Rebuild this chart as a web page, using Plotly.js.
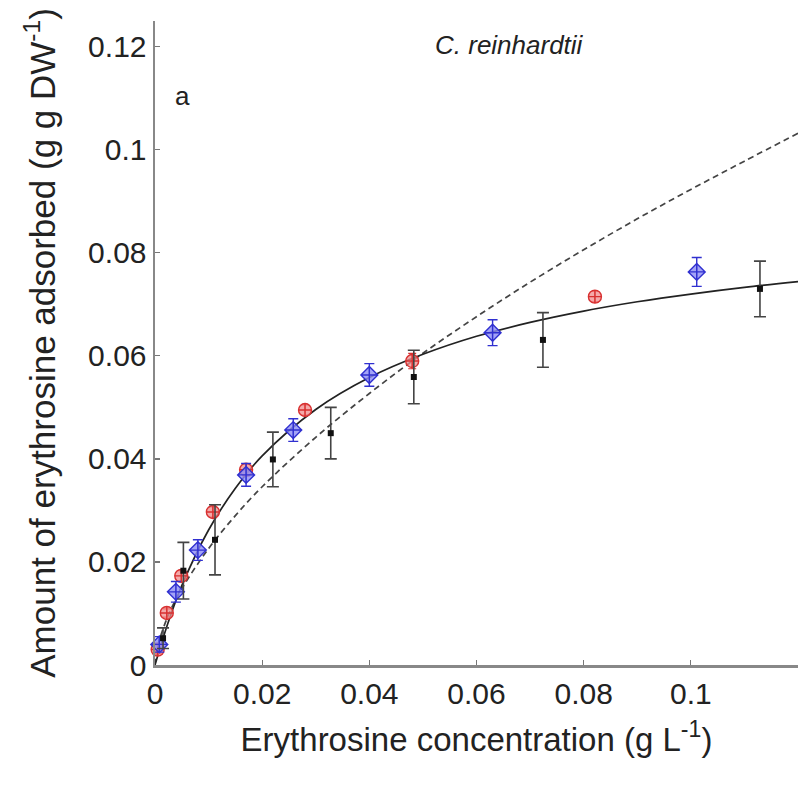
<!DOCTYPE html>
<html>
<head>
<meta charset="utf-8">
<script src="https://cdn.plot.ly/plotly-3.0.1.min.js"></script>
<style>html,body{margin:0;padding:0;background:#fff;}#chart{width:803px;height:793px;}</style>
</head>
<body>
<div id="chart"></div>
<script>
// Red circles
const redX = [0.0005, 0.0022, 0.0049, 0.0108, 0.0170, 0.0280, 0.0480, 0.0821];
const redY = [0.0030, 0.0101, 0.0173, 0.0297, 0.0379, 0.0495, 0.0590, 0.0715];
const redErr = [0.0008, 0.0008, 0.0010, 0.0010, 0.0012, 0.0010, 0.0015, 0.0010];
// Blue diamonds
const blueX = [0.0008, 0.0039, 0.0080, 0.0170, 0.0258, 0.0400, 0.0630, 0.1011];
const blueY = [0.0040, 0.0142, 0.0223, 0.0369, 0.0456, 0.0563, 0.0645, 0.0763];
const blueErr = [0.0015, 0.0020, 0.0020, 0.0022, 0.0022, 0.0022, 0.0025, 0.0028];
// Black squares
const blackX = [0.0015, 0.0053, 0.0112, 0.0220, 0.0328, 0.0483, 0.0724, 0.1129];
const blackY = [0.0052, 0.0183, 0.0243, 0.0399, 0.0450, 0.0559, 0.0631, 0.0730];
const blackErr = [0.0020, 0.0055, 0.0068, 0.0053, 0.0050, 0.0052, 0.0053, 0.0054];
// Solid fitted curve
const solidX = [0, 0.0025, 0.005, 0.01, 0.015, 0.02, 0.03, 0.04, 0.05, 0.06, 0.07, 0.08, 0.09, 0.10, 0.11, 0.12];
const solidY = [0, 0.0084, 0.0154, 0.0262, 0.0343, 0.0406, 0.0496, 0.0558, 0.0603, 0.0638, 0.0665, 0.0687, 0.0705, 0.0720, 0.0733, 0.0744];
// Dashed fitted curve
const dashX = [0, 0.0005, 0.0025, 0.005, 0.01, 0.015, 0.02, 0.03, 0.04, 0.05, 0.06, 0.07, 0.08, 0.09, 0.10, 0.11, 0.12];
const dashY = [0, 0.0036, 0.0097, 0.0148, 0.0226, 0.0290, 0.0346, 0.0442, 0.0527, 0.0605, 0.0676, 0.0743, 0.0806, 0.0866, 0.0923, 0.0978, 0.1032];
// Ticks
const xTickVals = [0, 0.02, 0.04, 0.06, 0.08, 0.1, 0.12];
const xTickText = ["0", "0.02", "0.04", "0.06", "0.08", "0.1", ""];
const yTickVals = [0, 0.02, 0.04, 0.06, 0.08, 0.1, 0.12];
const yTickText = ["0", "0.02", "0.04", "0.06", "0.08", "0.1", "0.12"];

const font = "Liberation Sans, Arial, sans-serif";

const traces = [
  {x: dashX, y: dashY, mode: 'lines', line: {color: '#444', width: 1.7, dash: '6px,4px', shape: 'spline'}, hoverinfo: 'skip'},
  {x: solidX, y: solidY, mode: 'lines', line: {color: '#222', width: 1.7, shape: 'spline'}, hoverinfo: 'skip'},
  {x: redX, y: redY, mode: 'markers', cliponaxis: false,
   marker: {symbol: 'circle-cross', size: 13, color: 'rgba(240,140,140,0.75)', line: {color: '#d83030', width: 1.4}},
   error_y: {type: 'data', array: redErr, visible: true, color: '#d83030', thickness: 1.2, width: 4}},
  {x: blueX, y: blueY, mode: 'markers', cliponaxis: false,
   marker: {symbol: 'diamond-cross', size: 13, color: 'rgba(140,140,245,0.8)', line: {color: '#3030d0', width: 1.4}},
   error_y: {type: 'data', array: blueErr, visible: true, color: '#3030d0', thickness: 1.4, width: 5}},
  {x: blackX, y: blackY, mode: 'markers', cliponaxis: false,
   marker: {symbol: 'square', size: 6, color: '#111'},
   error_y: {type: 'data', array: blackErr, visible: true, color: '#444', thickness: 1.6, width: 6}}
];

const layout = {
  width: 803, height: 793,
  margin: {l: 155, r: 5, t: 21, b: 128},
  paper_bgcolor: '#fff', plot_bgcolor: '#fff',
  showlegend: false,
  font: {family: font, color: '#222', size: 30},
  xaxis: {
    range: [0, 0.12], tickvals: xTickVals, ticktext: xTickText,
    ticks: 'inside', ticklen: 5, tickwidth: 1.2, tickcolor: '#777',
    showline: true, linecolor: '#888', linewidth: 2.5, showgrid: false, zeroline: false,
    tickfont: {family: font, size: 30, color: '#222'},
    title: {text: 'Erythrosine concentration (g L<sup>-1</sup>)', font: {family: font, size: 33, color: '#222'}, standoff: 20}
  },
  yaxis: {
    range: [0, 0.125], tickvals: yTickVals, ticktext: yTickText,
    ticks: 'inside', ticklen: 5, tickwidth: 1.2, tickcolor: '#777',
    showline: true, linecolor: '#888', linewidth: 2.5, showgrid: false, zeroline: false,
    tickfont: {family: font, size: 30, color: '#222'},
    title: {text: 'Amount of erythrosine adsorbed (g g DW<sup>-1</sup>)', font: {family: font, size: 35, color: '#222'}, standoff: 22}
  },
  annotations: [
    {text: '<i>C. reinhardtii</i>', xref: 'paper', yref: 'paper', x: 0.552, y: 0.963, showarrow: false,
     font: {family: font, size: 26, color: '#222'}, xanchor: 'center', yanchor: 'middle'},
    {text: 'a', xref: 'paper', yref: 'paper', x: 0.0435, y: 0.8835, showarrow: false,
     font: {family: font, size: 26, color: '#222'}, xanchor: 'center', yanchor: 'middle'}
  ]
};

Plotly.newPlot('chart', traces, layout, {displayModeBar: false, staticPlot: true});
</script>
</body>
</html>
